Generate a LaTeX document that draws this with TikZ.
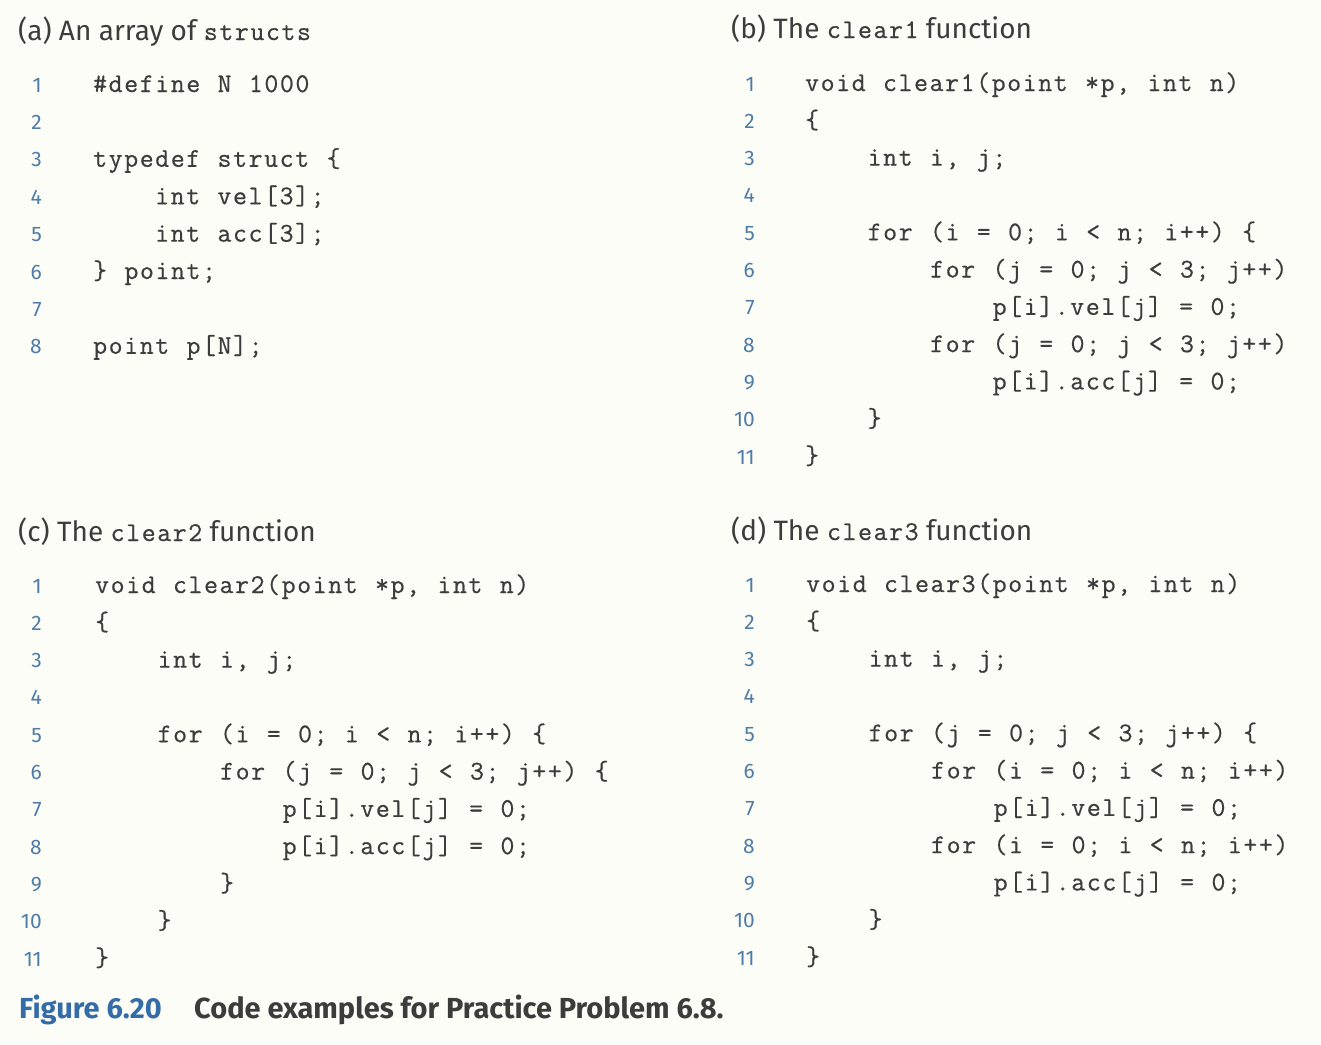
\documentclass[tikz,border=0pt]{standalone}
\usepackage{fontspec}
\setmainfont{Fira Sans}
\newfontfamily\codefont[LetterSpace=6,WordSpace=1.12,FakeBold=0.6]{Latin Modern Mono}
\usepackage{tikz}
\definecolor{codegray}{RGB}{60,60,60}
\definecolor{numblue}{RGB}{78,124,168}
\definecolor{figblue}{RGB}{52,108,168}
\definecolor{paper}{RGB}{253,253,247}
\newcommand{\cd}[1]{{\fontsize{27}{32}\codefont #1}}

\begin{document}
\begin{tikzpicture}[x=1pt,y=-1pt]
      \tikzstyle{codeline}=[anchor=base west,inner sep=0pt,text=codegray,
			      font=\fontsize{27}{32}\codefont]
      \tikzstyle{linenum}=[anchor=base east,inner sep=0pt,text=numblue,
			      font=\fontsize{21}{25}\selectfont]
      \tikzstyle{caption}=[anchor=base west,inner sep=0pt,text=codegray,
			      font=\fontsize{28}{33}\selectfont]
      \fill[paper] (0,0) rectangle (1321,1044);
      \useasboundingbox (0,0) rectangle (1321,1044);
      % (a) the struct
      \node[caption] (capa) at (18,40) {(a) An array of \cd{structs}};
      \foreach \ind/\txt [count=\n] in {0/{\#define N 1000},0/{},
	  0/{typedef struct \{},1/{int vel[3];},1/{int acc[3];},
	  0/{\} point;},0/{},0/{point p[N];}} {
	\node[linenum] (anum\n) at (42,{92+(\n-1)*37.4}) {\n};
	\node[codeline] (acode\n) at ({93+\ind*62},{92+(\n-1)*37.4}) {\txt};
      }
      % (b) clear1
      \node[caption] (capb) at (731,38) {(b) The \cd{clear1} function};
      \foreach \ind/\txt [count=\n] in {0/{void clear1(point *p, int n)},
	  0/{\{},1/{int i, j;},0/{},1/{for (i = 0; i < n; i++) \{},
	  2/{for (j = 0; j < 3; j++)},3/{p[i].vel[j] = 0;},
	  2/{for (j = 0; j < 3; j++)},3/{p[i].acc[j] = 0;},1/{\}},0/{\}}} {
	\node[linenum] (bnum\n) at (755,{91+(\n-1)*37.3}) {\n};
	\node[codeline] (bcode\n) at ({805+\ind*62.5},{91+(\n-1)*37.3}) {\txt};
      }
      % (c) clear2
      \node[caption] (capc) at (18,541) {(c) The \cd{clear2} function};
      \foreach \ind/\txt [count=\n] in {0/{void clear2(point *p, int n)},
	  0/{\{},1/{int i, j;},0/{},1/{for (i = 0; i < n; i++) \{},
	  2/{for (j = 0; j < 3; j++) \{},3/{p[i].vel[j] = 0;},
	  3/{p[i].acc[j] = 0;},2/{\}},1/{\}},0/{\}}} {
	\node[linenum] (cnum\n) at (42,{593+(\n-1)*37.3}) {\n};
	\node[codeline] (ccode\n) at ({95+\ind*62.5},{593+(\n-1)*37.3}) {\txt};
      }
      % (d) clear3
      \node[caption] (capd) at (731,540) {(d) The \cd{clear3} function};
      \foreach \ind/\txt [count=\n] in {0/{void clear3(point *p, int n)},
	  0/{\{},1/{int i, j;},0/{},1/{for (j = 0; j < 3; j++) \{},
	  2/{for (i = 0; i < n; i++)},3/{p[i].vel[j] = 0;},
	  2/{for (i = 0; i < n; i++)},3/{p[i].acc[j] = 0;},1/{\}},0/{\}}} {
	\node[linenum] (dnum\n) at (755,{592+(\n-1)*37.3}) {\n};
	\node[codeline] (dcode\n) at ({806+\ind*62.5},{592+(\n-1)*37.3}) {\txt};
      }
      % figure caption
      \node[caption,text=figblue,font=\fontsize{29}{34}\selectfont\bfseries]
	  (figlabel) at (19,1018) {Figure 6.20};
      \node[caption,font=\fontsize{29}{34}\selectfont\bfseries]
	  (figtext) at (194,1018) {Code examples for Practice Problem 6.8.};
  \end{tikzpicture}
\end{document}
